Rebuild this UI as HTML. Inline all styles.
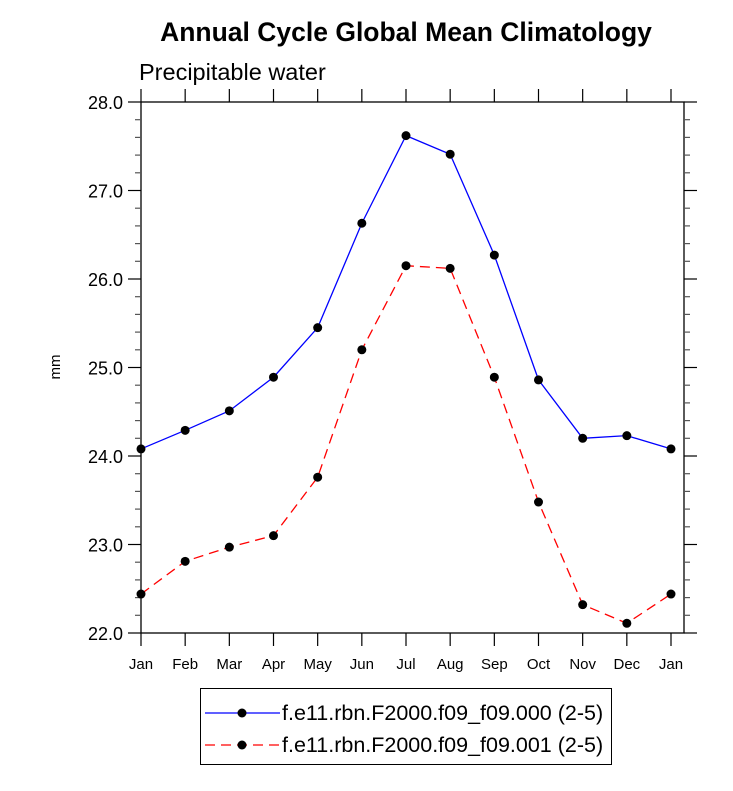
<!DOCTYPE html>
<html><head><meta charset="utf-8"><style>
body{margin:0;background:#fff}
svg text{font-family:"Liberation Sans",Helvetica,sans-serif;fill:#000}
</style></head><body>
<svg width="733" height="786" xmlns="http://www.w3.org/2000/svg" id="chart">
<text x="406" y="41" text-anchor="middle" font-size="26.5" font-weight="bold">Annual Cycle Global Mean Climatology</text>
<text x="139" y="80" font-size="23.5">Precipitable water</text>
<text transform="translate(60,367) rotate(-90)" text-anchor="middle" font-size="15">mm</text>
<g id="axes"></g>
<g id="series"></g>
<g>
<rect x="200.5" y="688.5" width="411" height="76" fill="none" stroke="#000" stroke-width="1"/>
<g>
<line x1="205" y1="713" x2="280" y2="713" stroke="#0000ff" stroke-width="1.3"/>
<circle cx="242" cy="713" r="4.5" fill="#000"/>
<text x="282" y="720" font-size="21.5">f.e11.rbn.F2000.f09_f09.000 (2-5)</text>
</g>
<g>
<line x1="205" y1="745" x2="280" y2="745" stroke="#ff0000" stroke-width="1.3" stroke-dasharray="10,6"/>
<circle cx="242" cy="745" r="4.5" fill="#000"/>
<text x="282" y="752" font-size="21.5">f.e11.rbn.F2000.f09_f09.001 (2-5)</text>
</g>
</g>
</svg>
<script>
const months=["Jan","Feb","Mar","Apr","May","Jun","Jul","Aug","Sep","Oct","Nov","Dec","Jan"];
const series000=[24.08,24.29,24.51,24.89,25.45,26.63,27.62,27.41,26.27,24.86,24.20,24.23,24.08];
const series001=[22.44,22.81,22.97,23.10,23.76,25.20,26.15,26.12,24.89,23.48,22.32,22.11,22.44];
const yTicks=[22,23,24,25,26,27,28];
const NS="http://www.w3.org/2000/svg";
const X0=141,X1=671,XF=684,Y0=633,Y1=102,YMIN=22,YMAX=28;
const xs=i=>X0+(X1-X0)*i/(months.length-1);
const ys=v=>Y0-(v-YMIN)/(YMAX-YMIN)*(Y0-Y1);
function mk(t,a,p){const e=document.createElementNS(NS,t);for(const k in a)e.setAttribute(k,a[k]);p.appendChild(e);return e;}
const ax=document.getElementById('axes');
const fr=mk('rect',{x:X0,y:Y1,width:XF-X0,height:Y0-Y1,fill:'none',stroke:'#000','stroke-width':1.3},ax);


months.forEach((m,i)=>{const x=xs(i);
mk('line',{x1:x,y1:Y0,x2:x,y2:Y0+13,stroke:'#000','stroke-width':1.2},ax);
mk('line',{x1:x,y1:Y1,x2:x,y2:Y1-13,stroke:'#000','stroke-width':1.2},ax);
const t=mk('text',{x:x,y:Y0+36,'text-anchor':'middle','font-size':15},ax);t.textContent=m;

});
for(let v=YMIN;v<=YMAX+1e-9;v+=0.2){const y=ys(v);const maj=Math.abs(v-Math.round(v))<1e-6;const L=maj?13:6;
mk('line',{x1:X0,y1:y,x2:X0-L,y2:y,stroke:maj?'#000':'#555','stroke-width':1.2},ax);
mk('line',{x1:XF,y1:y,x2:XF+L,y2:y,stroke:maj?'#000':'#555','stroke-width':1.2},ax);}
yTicks.forEach(v=>{const t=mk('text',{x:X0-18,y:ys(v)+7,'text-anchor':'end','font-size':18},ax);t.textContent=v.toFixed(1);

});
const sg=document.getElementById('series');
function draw(data,color,dash,name){
const g=mk('g',{},sg);


const a={points:data.map((v,i)=>xs(i)+','+ys(v)).join(' '),fill:'none',stroke:color,'stroke-width':1.3};
if(dash)a['stroke-dasharray']=dash;
mk('polyline',a,g);
data.forEach((v,i)=>{const c=mk('circle',{cx:xs(i),cy:ys(v),r:4.5,fill:'#000'},g);

});}
draw(series000,'#0000ff',null,'series-000');
draw(series001,'#ff0000','10,6','series-001');
</script>
</body></html>
